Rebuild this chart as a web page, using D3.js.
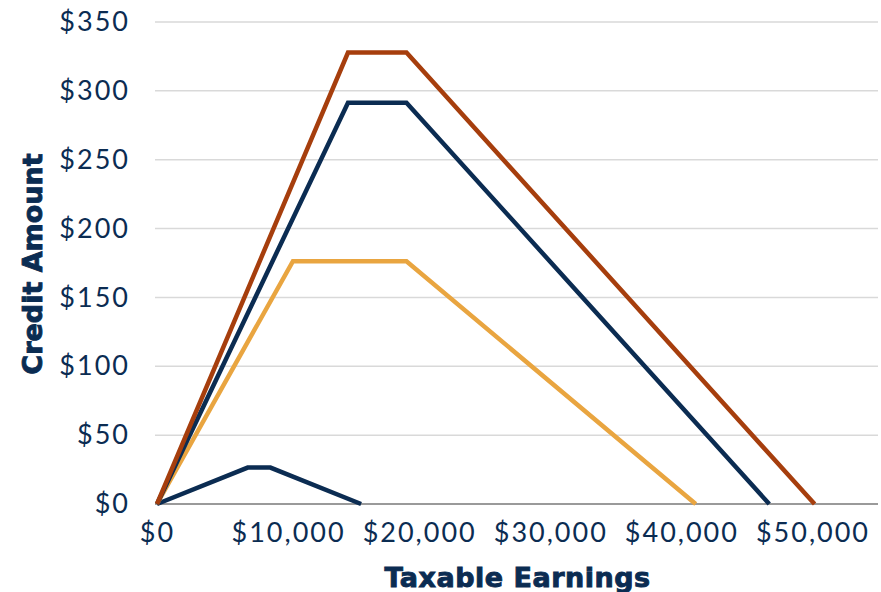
<!DOCTYPE html>
<html>
<head>
<meta charset="utf-8">
<script src="https://cdn.jsdelivr.net/npm/d3@7"></script>
<style>
  body { margin: 0; background: #fff; }
  svg { display: block; }
  .tick text { font-family: Lato, "Open Sans", sans-serif; }
</style>
</head>
<body>
<svg id="chart" width="881" height="592"></svg>
<script>
// Data (taxable earnings -> credit amount)
const seriesNames = ["No children", "One child", "Two children", "Three or more children"];
const earningsSmall = [0, 6920, 8650, 15570];
const creditSmall   = [0, 26.45, 26.45, 0];
const earningsOne   = [0, 10370, 19030, 41094];
const creditOne     = [0, 176.3, 176.3, 0];
const earningsTwo   = [0, 14570, 19030, 46703];
const creditTwo     = [0, 291.4, 291.4, 0];
const earningsThree = [0, 14570, 19030, 50162];
const creditThree   = [0, 327.85, 327.85, 0];
const xTicks = [0, 10000, 20000, 30000, 40000, 50000];
const yTicks = [0, 50, 100, 150, 200, 250, 300, 350];
const colors = ["#0b2c52", "#e9a540", "#0b2c52", "#a63e0d"];

const series = [
  {name: seriesNames[0], xs: earningsSmall, ys: creditSmall, color: colors[0]},
  {name: seriesNames[1], xs: earningsOne, ys: creditOne, color: colors[1]},
  {name: seriesNames[2], xs: earningsTwo, ys: creditTwo, color: colors[2]},
  {name: seriesNames[3], xs: earningsThree, ys: creditThree, color: colors[3]}
];

const svg = d3.select("#chart");
const mLeft = 157, mRight = 878, mTop = 22, mBottom = 504;
const x = d3.scaleLinear().domain([0, 55000]).range([mLeft, mRight]);
const y = d3.scaleLinear().domain([0, 350]).range([mBottom, mTop]);
const navy = "#0b2c52";

// gridlines
svg.append("g").selectAll("line").data(yTicks).join("line")
  .attr("x1", mLeft - 2).attr("x2", mRight)
  .attr("y1", d => y(d)).attr("y2", d => y(d))
  .attr("stroke", d => d === 0 ? "#9a9a9a" : "#d9d9d9")
  .attr("stroke-width", d => d === 0 ? 2 : 1.5);

// y axis
const yAxis = svg.append("g").attr("transform", `translate(${mLeft},0)`)
  .call(d3.axisLeft(y).tickValues(yTicks).tickFormat(d => "$" + d).tickSize(0).tickPadding(27));
yAxis.select(".domain").remove();
yAxis.selectAll("text").attr("font-size", 27).attr("fill", navy).style("letter-spacing", "2px");

// x axis
const xAxis = svg.append("g").attr("transform", `translate(0,${mBottom})`)
  .call(d3.axisBottom(x).tickValues(xTicks).tickFormat(d => "$" + d3.format(",")(d)).tickSize(0).tickPadding(19));
xAxis.select(".domain").remove();
xAxis.selectAll("text").attr("font-size", 27).attr("fill", navy).style("letter-spacing", "2px");

// lines
const line = d3.line().x(d => x(d[0])).y(d => y(d[1]));
svg.append("g").selectAll("path").data(series).join("path")
  .attr("d", s => line(s.xs.map((v, i) => [v, s.ys[i]])))
  .attr("fill", "none")
  .attr("stroke", s => s.color)
  .attr("stroke-width", 4.5)
  .attr("stroke-linejoin", "miter");

// axis titles
svg.append("text")
  .attr("x", (mLeft + mRight) / 2).attr("y", 587)
  .attr("text-anchor", "middle")
  .attr("font-family", "'DejaVu Sans', sans-serif").attr("font-weight", "bold")
  .attr("font-size", 27).attr("fill", navy)
  .attr("stroke", navy).attr("stroke-width", 0.9)
  .style("letter-spacing", "0.5px")
  .text("Taxable Earnings");

svg.append("text")
  .attr("transform", `translate(42,${(mTop + mBottom) / 2 + 1}) rotate(-90)`)
  .attr("text-anchor", "middle")
  .attr("font-family", "'DejaVu Sans', sans-serif").attr("font-weight", "bold")
  .attr("font-size", 27).attr("fill", navy)
  .attr("stroke", navy).attr("stroke-width", 0.9)
  .text("Credit Amount");
</script>
</body>
</html>
